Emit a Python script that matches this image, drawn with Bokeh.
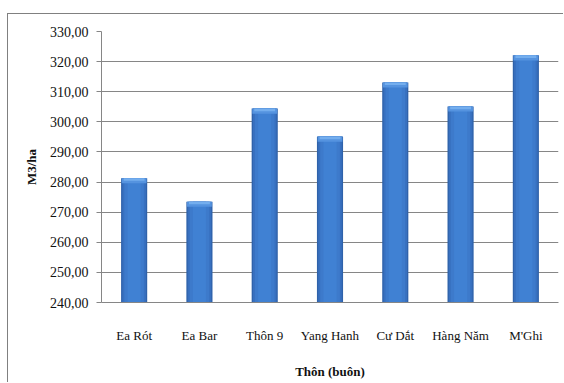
from bokeh.plotting import figure
from bokeh.models import ColumnDataSource, FixedTicker, FactorRange, Range1d
from bokeh.embed import file_html
from bokeh.resources import INLINE

villages = ["Ea Rót", "Ea Bar", "Thôn 9", "Yang Hanh", "Cư Dắt", "Hàng Năm", "M'Ghi"]
volume = [281.3, 273.5, 304.4, 295.1, 313.1, 305.1, 322.1]
y_ticks = [240, 250, 260, 270, 280, 290, 300, 310, 320, 330]
y_tick_labels = ["240,00", "250,00", "260,00", "270,00", "280,00", "290,00",
                 "300,00", "310,00", "320,00", "330,00"]
x_title = "Thôn (buôn)"
y_title = "M3/ha"

FONT = "Liberation Serif"

src = ColumnDataSource(dict(v=villages, top=volume,
                            cap=[t - 1.7 for t in volume],
                            cap2=[t - 0.9 for t in volume]))

p = figure(width=556, height=369, output_backend="svg", toolbar_location=None,
           x_range=FactorRange(*villages), y_range=Range1d(240, 330),
           min_border_left=93, min_border_right=6, min_border_top=17, min_border_bottom=81)
p.styles = {"border-left": "1.5px solid #808080", "border-top": "1.5px solid #808080",
            "margin-left": "7px", "margin-top": "13px"}
p.outline_line_color = None
p.background_fill_color = "white"
p.border_fill_color = "white"

# layered bars for a cylinder-like shading
p.vbar(x="v", top="top", bottom=240, width=0.40, source=src, fill_color="#2f62aa", line_color=None)
p.vbar(x="v", top="top", bottom=240, width=0.36, source=src, fill_color="#3870bf", line_color=None)
p.vbar(x="v", top="top", bottom=240, width=0.30, source=src, fill_color="#3d7acb", line_color=None)
p.vbar(x="v", top="top", bottom=240, width=0.20, source=src, fill_color="#4081d3", line_color=None)
p.vbar(x="v", top="top", bottom="cap", width=0.38, source=src, fill_color="#5593df", line_color=None)
p.vbar(x="v", top="top", bottom="cap2", width=0.32, source=src, fill_color="#74aeee", line_color=None)

p.yaxis.ticker = FixedTicker(ticks=y_ticks)
p.yaxis.major_label_overrides = {t: l for t, l in zip(y_ticks, y_tick_labels)}
p.yaxis.major_label_text_font = FONT
p.yaxis.major_label_text_font_size = "14px"
p.yaxis.major_label_text_color = "#111111"
p.yaxis.axis_line_color = "#868686"
p.yaxis.major_tick_line_color = "#868686"
p.yaxis.major_tick_out = 5
p.yaxis.major_tick_in = 0
p.yaxis.minor_tick_line_color = None
p.yaxis.major_label_standoff = 8
p.yaxis.axis_label = y_title
p.yaxis.axis_label_text_font = FONT
p.yaxis.axis_label_text_font_style = "bold"
p.yaxis.axis_label_text_font_size = "13px"
p.yaxis.axis_label_text_color = "#111111"
p.yaxis.axis_label_standoff = 8

p.xaxis.axis_line_color = "#868686"
p.xaxis.major_tick_line_color = None
p.xaxis.minor_tick_line_color = None
p.xaxis.major_label_text_font = FONT
p.xaxis.major_label_text_font_size = "13px"
p.xaxis.major_label_text_color = "#111111"
p.xaxis.major_label_standoff = 19
p.xaxis.axis_label = x_title
p.xaxis.axis_label_text_font = FONT
p.xaxis.axis_label_text_font_style = "bold"
p.xaxis.axis_label_text_font_size = "13px"
p.xaxis.axis_label_text_color = "#111111"
p.xaxis.axis_label_standoff = 18

p.xgrid.grid_line_color = None
p.ygrid.grid_line_color = "#868686"
p.ygrid.grid_line_width = 1

open("out.html", "w").write(file_html(p, INLINE))
